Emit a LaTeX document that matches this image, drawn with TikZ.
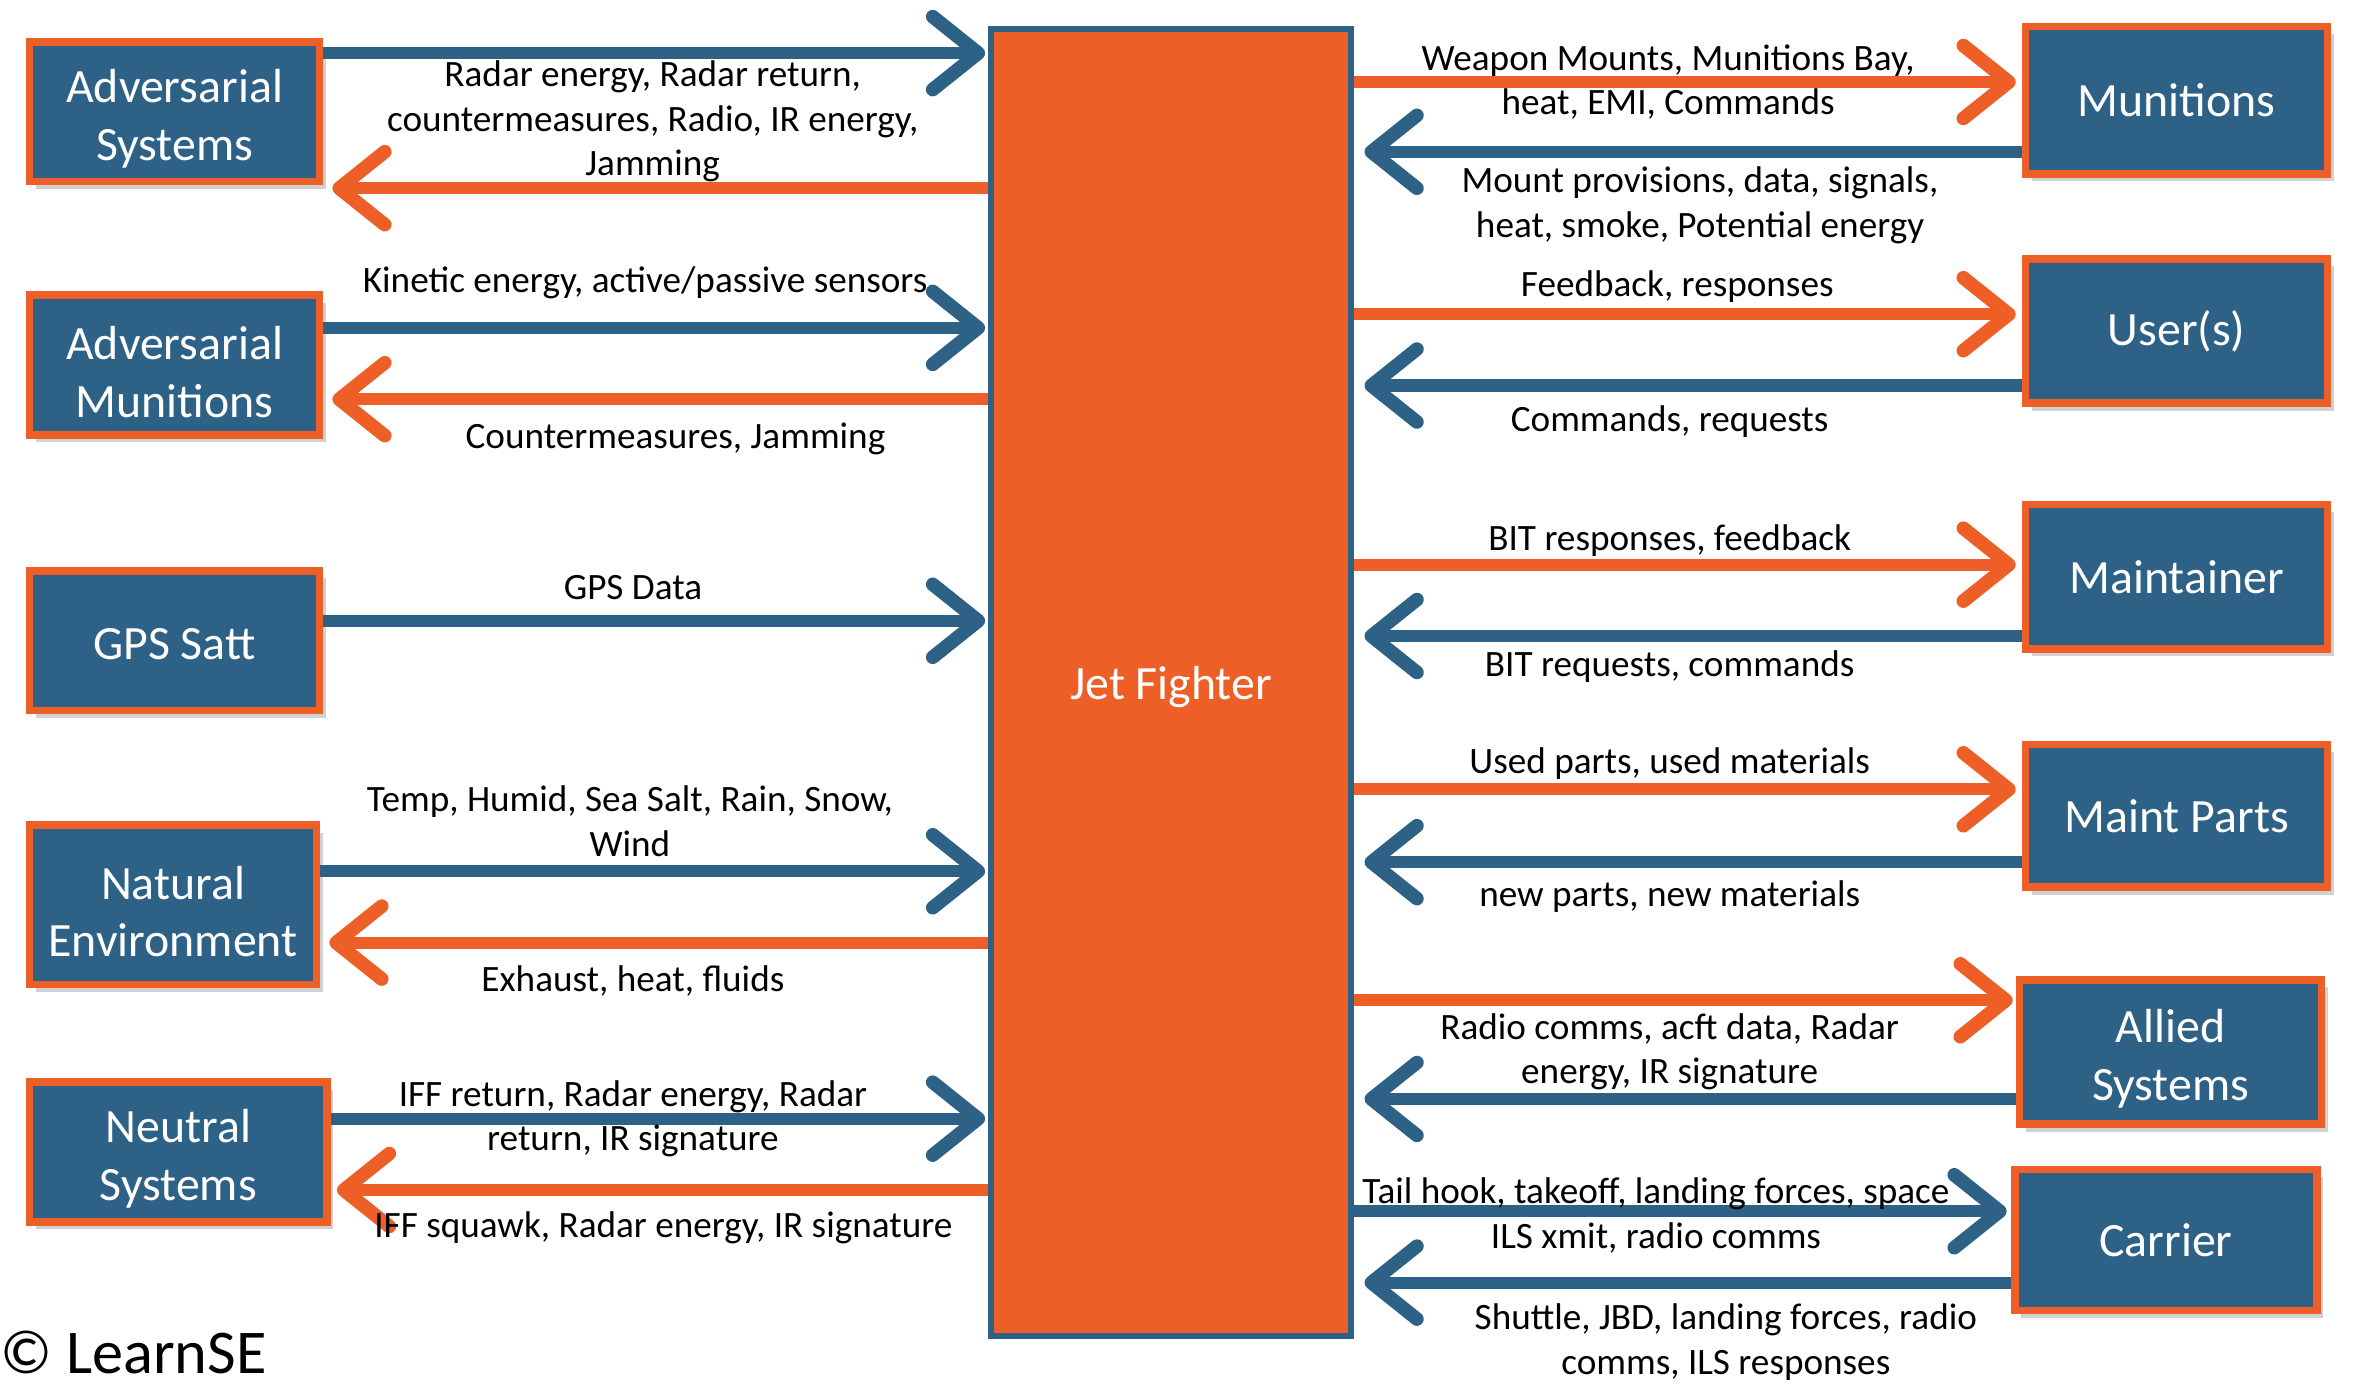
\documentclass[tikz,border=0pt]{standalone}
\usepackage{fontspec}
\setmainfont{Carlito}
\usetikzlibrary{arrows.meta,shadows}
\definecolor{fblue}{RGB}{45,97,134}
\definecolor{forange}{RGB}{237,95,38}
\begin{document}
\begin{tikzpicture}[x=1pt,y=-1pt,
 ext/.style={draw=forange, line width=5pt, fill=fblue, text=white, align=center,
   font=\fontsize{31.5}{38}\selectfont, minimum width=191pt, minimum height=92pt, inner sep=0pt,
   drop shadow={shadow xshift=4pt,shadow yshift=-5pt,opacity=0.3,fill=black!60}},
 two/.style={text height=69pt},
 lbl/.style={align=center, font=\fontsize{24.5}{29.5}\selectfont, inner sep=0pt, text=black, yshift=-2pt},
 tipstyle/.style={-{Straight Barb[length=30pt,width=48pt,round,line width=9pt]}},
 barr/.style={draw=fblue, line width=8pt, tipstyle},
 oarr/.style={draw=forange, line width=8pt, tipstyle}
]
\useasboundingbox (0,0) rectangle (1568,916);

% central box
\node[draw=fblue, line width=4pt, fill=forange, minimum width=237pt, minimum height=861pt,
  text=white, font=\fontsize{31.5}{36}\selectfont, inner sep=0pt, text height=28.5pt] (jet) at (771.5,449.5) {Jet Fighter};

% boxes
\node[ext, two] (as) at (115,73.5) {Adversarial\\Systems};
\node[ext, two] (am) at (115,240.5) {Adversarial\\Munitions};
\node[ext, text height=25pt] (gps) at (115,422) {GPS Satt};
\node[ext, two, minimum height=105pt, minimum width=189pt] (ne) at (114,596) {Natural\\Environment};
\node[ext, two, minimum width=196pt] (ns) at (117.5,759) {Neutral\\Systems};

\node[ext, minimum height=97pt, minimum width=199pt] (mu) at (1434,66) {Munitions};
\node[ext, minimum height=95pt, minimum width=199pt] (us) at (1434,218) {User(s)};
\node[ext, minimum height=95pt, minimum width=199pt] (mt) at (1434,380) {Maintainer};
\node[ext, minimum height=94pt, minimum width=199pt] (mp) at (1434,537.5) {Maint Parts};
\node[ext, two, minimum height=95pt, minimum width=199pt] (al) at (1430,693) {Allied\\Systems};
\node[ext, minimum height=93pt, minimum width=199pt] (ca) at (1427,817) {Carrier};

% arrows left
\draw[barr, shorten >=2pt] (as.east |- 0,35) -- (jet.west |- 0,35);
\draw[oarr, shorten >=6pt] (jet.west |- 0,124) -- (as.east |- 0,124);
\draw[barr, shorten >=2pt] (am.east |- 0,216) -- (jet.west |- 0,216);
\draw[oarr, shorten >=6pt] (jet.west |- 0,263) -- (am.east |- 0,263);
\draw[barr, shorten >=2pt] (gps.east |- 0,409) -- (jet.west |- 0,409);
\draw[barr, shorten >=2pt] (ne.east |- 0,574) -- (jet.west |- 0,574);
\draw[oarr, shorten >=6pt] (jet.west |- 0,621) -- (ne.east |- 0,621);
\draw[barr, shorten >=2pt] (ns.east |- 0,737) -- (jet.west |- 0,737);
\draw[oarr, shorten >=4pt] (jet.west |- 0,784) -- (ns.east |- 0,784);

% arrows right
\draw[oarr, shorten >=4pt] (jet.east |- 0,54) -- (mu.west |- 0,54);
\draw[barr, shorten >=7pt] (mu.west |- 0,100) -- (jet.east |- 0,100);
\draw[oarr, shorten >=4pt] (jet.east |- 0,207) -- (us.west |- 0,207);
\draw[barr, shorten >=7pt] (us.west |- 0,254) -- (jet.east |- 0,254);
\draw[oarr, shorten >=4pt] (jet.east |- 0,372) -- (mt.west |- 0,372);
\draw[barr, shorten >=7pt] (mt.west |- 0,419) -- (jet.east |- 0,419);
\draw[oarr, shorten >=4pt] (jet.east |- 0,520) -- (mp.west |- 0,520);
\draw[barr, shorten >=7pt] (mp.west |- 0,568) -- (jet.east |- 0,568);
\draw[oarr, shorten >=2pt] (jet.east |- 0,659) -- (al.west |- 0,659);
\draw[barr, shorten >=7pt] (al.west |- 0,724) -- (jet.east |- 0,724);
\draw[barr, shorten >=3pt] (jet.east |- 0,798) -- (ca.west |- 0,798);
\draw[barr, shorten >=7pt] (ca.west |- 0,845) -- (jet.east |- 0,845);

% labels left
\node[lbl] (l1) at (430,78) {Radar energy, Radar return,\\countermeasures, Radio, IR energy,\\Jamming};
\node[lbl] (l2) at (425,184) {Kinetic energy, active/passive sensors};
\node[lbl] (l3) at (445,287) {Countermeasures, Jamming};
\node[lbl] (l4) at (417,385) {GPS Data};
\node[lbl] (l5) at (415,539) {Temp, Humid, Sea Salt, Rain, Snow,\\Wind};
\node[lbl] (l6) at (417,644) {Exhaust, heat, fluids};
\node[lbl] (l7) at (417,735) {IFF return, Radar energy, Radar\\return, IR signature};
\node[lbl] (l8) at (437,807) {IFF squawk, Radar energy, IR signature};

% labels right
\node[lbl] (r1) at (1099,52) {Weapon Mounts, Munitions Bay,\\heat, EMI, Commands};
\node[lbl] (r2) at (1120,133) {Mount provisions, data, signals,\\heat, smoke, Potential energy};
\node[lbl] (r3) at (1105,187) {Feedback, responses};
\node[lbl] (r4) at (1100,276) {Commands, requests};
\node[lbl] (r5) at (1100,354) {BIT responses, feedback};
\node[lbl] (r6) at (1100,437) {BIT requests, commands};
\node[lbl] (r7) at (1100,501) {Used parts, used materials};
\node[lbl] (r8) at (1100,589) {new parts, new materials};
\node[lbl] (r9) at (1100,691) {Radio comms, acft data, Radar\\energy, IR signature};
\node[lbl] (r10) at (1091,799) {Tail hook, takeoff, landing forces, space\\ILS xmit, radio comms};
\node[lbl] (r11) at (1137,882) {Shuttle, JBD, landing forces, radio\\comms, ILS responses};

% copyright
\node[font=\fontsize{41}{44}\selectfont, anchor=west, inner sep=0pt] (cr) at (0,891) {© LearnSE};
\end{tikzpicture}
\end{document}
